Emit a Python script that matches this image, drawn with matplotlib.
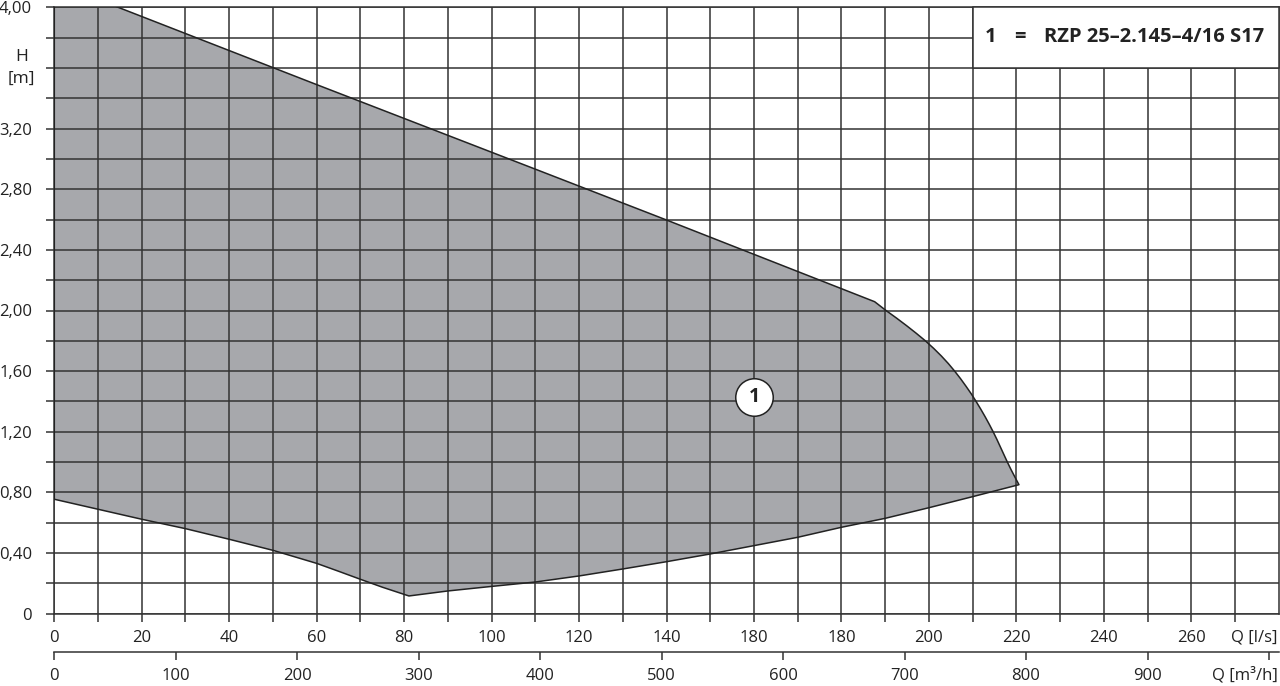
import matplotlib
matplotlib.use("Agg")
import matplotlib.pyplot as plt
import numpy as np
from matplotlib.patches import Polygon, Rectangle

plt.rcParams['font.family'] = ['Open Sans', 'DejaVu Sans']

# ---- data (Q in l/s, H in m) ----
upper_q = [0.0, 14.6, 60.0, 109.5, 140.0, 187.6]
upper_h = [4.163, 4.0, 3.49, 2.938, 2.597, 2.058]

right_q = [190.2, 192.6, 194.9, 197.1, 199.2, 201.1, 202.85, 204.45, 205.9, 207.25, 208.5, 209.7, 210.8,
           211.85, 212.85, 213.8, 214.7, 215.55, 216.35, 217.15, 217.95, 218.8, 219.7, 220.6]
right_h = [2.00, 1.95, 1.90, 1.85, 1.80, 1.75, 1.70, 1.65, 1.60, 1.55, 1.50, 1.45, 1.40,
           1.35, 1.30, 1.25, 1.20, 1.15, 1.10, 1.05, 1.00, 0.95, 0.90, 0.851]

lower_q = [210.0, 200.0, 190.0, 180.0, 170.0, 160.0, 150.0, 140.0, 130.0, 120.0, 110.0, 100.0, 90.0, 81.1,
           75.0, 70.0, 65.0, 60.0, 50.0, 40.0, 30.0, 20.0, 10.0, 0.0]
lower_h = [0.772, 0.699, 0.629, 0.570, 0.504, 0.449, 0.394, 0.343, 0.295, 0.249, 0.209, 0.180, 0.150, 0.117,
           0.175, 0.227, 0.280, 0.332, 0.418, 0.491, 0.561, 0.623, 0.689, 0.755]

x_ticks = list(range(0, 271, 10))
x_labels_major = ['0', '20', '40', '60', '80', '100', '120', '140', '180', '180', '200', '220', '240', '260']
y_ticks = [round(0.2 * i, 1) for i in range(21)]
y_labels = ['0', '', '0,40', '', '0,80', '', '1,20', '', '1,60', '', '2,00', '', '2,40', '',
            '2,80', '', '3,20', '', '', '', '4,00']
m3h_ticks = list(range(0, 1001, 100))
m3h_labels = ['0', '100', '200', '300', '400', '500', '600', '700', '800', '900', '']

legend_text = 'RZP 25\u20132.145\u20134/16 S17'
curve_label = '1'
curve_label_pos = (160.0, 1.43)

GRID = '#333333'
FILL = '#a7a8ac'

W, H = 1280, 686
fig = plt.figure(figsize=(W / 100, H / 100), dpi=100)
x0, x1 = 54.3, 1278.7
ytop, ybot = 7.3, 613.7
ax = fig.add_axes([x0 / W, (H - ybot) / H, (x1 - x0) / W, (ybot - ytop) / H])
ax.set_xlim(0, 280)
ax.set_ylim(0, 4.0)

# polygon
qs = upper_q + right_q + lower_q
hs = upper_h + right_h + lower_h
poly = Polygon(np.column_stack([qs, hs]), closed=True, facecolor=FILL, edgecolor='none', zorder=1)
ax.add_patch(poly)
ax.plot(qs + [qs[0]], hs + [hs[0]], color='#222222', lw=1.1, zorder=2.6)

# grid and ticks
ax.set_xticks(x_ticks)
xl = []
for t in x_ticks:
    if t % 20 == 0:
        xl.append(x_labels_major[t // 20])
    else:
        xl.append('')
ax.set_xticklabels(xl)
ax.set_yticks(y_ticks)
ax.set_yticklabels(y_labels)
ax.grid(True, color=GRID, lw=1.1)
ax.tick_params(axis='x', direction='out', length=6, width=1.1, color=GRID, pad=6, labelsize=12, labelcolor='#222222')
ax.tick_params(axis='y', direction='out', length=6, width=1.1, color=GRID, pad=10, labelsize=12, labelcolor='#222222')
for s in ax.spines.values():
    s.set_color(GRID)
    s.set_linewidth(1.1)

# secondary axis in m3/h
loc = -(651.7 - ybot) / (ybot - ytop)
sec = ax.secondary_xaxis(loc, functions=(lambda q: q * 3.6, lambda m: m / 3.6))
sec.set_xticks(m3h_ticks)
sec.set_xticklabels(m3h_labels)
sec.tick_params(direction='out', length=6, width=1.1, color=GRID, pad=6, labelsize=12, labelcolor='#222222')
sec.spines['bottom'].set_color(GRID)
sec.spines['bottom'].set_linewidth(1.1)

# axis labels
fig.text(1277.5 / W, 1 - 637 / H, 'Q [l/s]', ha='right', va='center', fontsize=12, color='#222222')
fig.text(1277.5 / W, 1 - 675 / H, 'Q [m\u00b3/h]', ha='right', va='center', fontsize=12, color='#222222')
fig.text(21.5 / W, 1 - 57 / H, 'H', ha='center', va='center', fontsize=12.5, color='#222222')
fig.text(21.5 / W, 1 - 79 / H, '[m]', ha='center', va='center', fontsize=12.5, color='#222222')

# legend box
ax.add_patch(Rectangle((210, 3.6), 70, 0.4, facecolor='white', edgecolor=GRID, lw=1.1, zorder=3, clip_on=False))
ax.text(212.8, 3.805, '1', ha='left', va='center', fontsize=14.5, fontweight='bold', color='#222222', zorder=4)
ax.text(219.6, 3.805, '=', ha='left', va='center', fontsize=14.5, fontweight='bold', color='#222222', zorder=4)
ax.text(226.3, 3.805, legend_text, ha='left', va='center', fontsize=14.5, fontweight='bold', color='#222222', zorder=4)

# curve label
ax.plot([curve_label_pos[0]], [curve_label_pos[1]], marker='o', ms=27, mfc='white', mec='#222222', mew=1.1, zorder=5)
ax.text(curve_label_pos[0], curve_label_pos[1], curve_label, ha='center', va='center', fontsize=14,
        fontweight='bold', color='#222222', zorder=6)

fig.savefig('out.png', dpi=100)
